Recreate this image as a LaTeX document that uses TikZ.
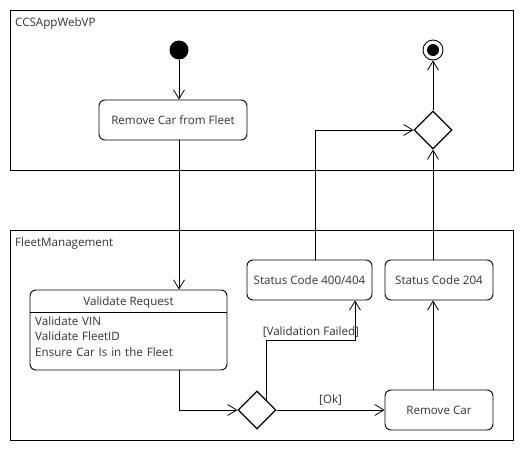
\documentclass[tikz,border=0pt]{standalone}
\usepackage{fontspec}
\setmainfont{Open Sans}
\usetikzlibrary{arrows.meta,shapes.geometric,calc}
\begin{document}
\begin{tikzpicture}[x=1pt,y=-1pt,
  every node/.style={font=\fontsize{11.6}{15.5}\selectfont, text=black!80},
  action/.style={draw, rounded corners=6pt, inner sep=0pt, line width=0.9pt},
  part/.style={draw, line width=0.9pt, inner sep=0pt},
  dec/.style={draw, diamond, line width=1.2pt, minimum width=38, minimum height=38, inner sep=0pt},
  flow/.style={line width=0.8pt, -{Straight Barb[length=9pt,width=11pt,line width=0.8pt]}},
  lbl/.style={inner sep=0pt}]
\useasboundingbox (0,0) rectangle (530,450);
\fill[white] (0,0) rectangle (530,450);
% partitions
\node[part, minimum width=503, minimum height=160, anchor=north west] (p1) at (10,10) {};
\node[lbl, anchor=west] (p1l) at (15,23) {CCSAppWebVP};
\node[part, minimum width=503, minimum height=210, anchor=north west] (p2) at (10,230) {};
\node[lbl, anchor=west] (p2l) at (15,243) {FleetManagement};
% nodes
\node[circle, fill=black, minimum size=19, inner sep=0pt] (init) at (179,50) {};
\node[circle, draw, line width=0.9pt, minimum size=20, inner sep=0pt] (fin) at (433,50) {};
\node[circle, fill=black, minimum size=12, inner sep=0pt] (fini) at (433,50) {};
\node[action, minimum width=148, minimum height=40] (rcf) at (173,120) {Remove Car from Fleet};
\node[dec] (d1) at (433,130) {};
\node[action, minimum width=197, minimum height=80] (val) at (128.5,330) {};
\node[lbl] (valt) at (128.5,302) {Validate Request};
\draw[line width=0.9pt] (val.west |- 0,312) coordinate (sepl) -- (val.east |- sepl) coordinate (sepr);
\node[lbl, anchor=north west, align=left, text width=185] (valb) at (35,316) {Validate VIN\\Validate FleetID\\Ensure Car Is in the Fleet};
\node[action, minimum width=125, minimum height=40] (s400) at (309.5,280) {Status Code 400/404};
\node[action, minimum width=108, minimum height=40] (s204) at (439,280) {Status Code 204};
\node[action, minimum width=108, minimum height=40] (rc) at (439,410) {Remove Car};
\node[dec] (d2) at (257,410) {};
\coordinate (d2ne) at ($(d2.north)!0.5!(d2.east)$);
\coordinate (xa) at (179,0);
\coordinate (xb) at (315,0);
\coordinate (xc) at (433,0);
\coordinate (vf) at (355,340);
% connectors
\draw[flow] (init) -- (xa |- rcf.north);
\draw[flow] (xa |- rcf.south) -- (xa |- val.north);
\draw[flow] (xa |- val.south) |- (d2.west);
\draw[flow] (d2.east) -- node[lbl, above=4pt, pos=0.5] (okl) {[Ok]} (rc.west);
\draw[flow] (d2ne) |- node[lbl, pos=0.75, above=2pt] (vfl) {[Validation Failed]} (vf) -- (vf |- s400.south);
\draw[flow] (xc |- rc.north) -- (xc |- s204.south);
\draw[flow] (xc |- s204.north) -- (d1.south);
\draw[flow] (xb |- s400.north) |- (d1.west);
\draw[flow] (d1.north) -- (fin.south);
\end{tikzpicture}
\end{document}
